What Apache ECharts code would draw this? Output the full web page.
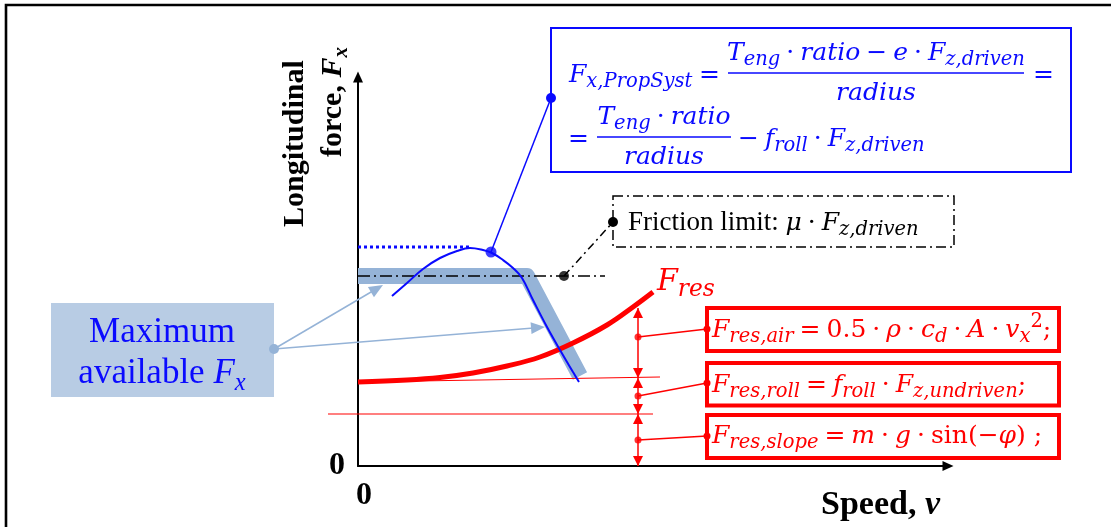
<!DOCTYPE html>
<html><head><meta charset="utf-8">
<script src="https://cdn.jsdelivr.net/npm/echarts@6/dist/echarts.min.js"></script>
<style>html,body{margin:0;padding:0;background:#fff}#c{width:1111px;height:527px}</style>
</head><body><div id="c"></div>
<script>
// ---------------- data (arbitrary units: speed → x, force → y) ----------------
const maxAvailableFx = [[0,190],[169,190],[222,90]];
const frictionLimit  = [[0,190],[247,190]];
const propSystForce  = [[34,170],[49,183],[65,197],[82,208],[99,215],[112,218],[125,216],[134,213],[145,206],[155,198],[164,188],[175,166],[189,139],[202,116],[215,94],[221,84]];
const propSystPeak   = [[0,219],[112,219]];
const resistance     = [[0,84],[49,86],[82,88.5],[115,93],[149,100],[182,109],[215,123],[249,141],[275,159],[295,174]];
const rollLevel      = [[0,84],[302,89]];
const slopeLevel     = [[-30,52],[295,52]];
const dimSpeed       = 280;
const dimLevels      = [0,52,88,158];
const propSystAnchor = [[133,214]];
const frictionAnchor = [[206,190]];
const resAnchors     = [[280,129],[280,70],[280,26]];
const xTickLabels    = ['0'];
const yTickLabels    = ['0'];

// ---------------- helpers for math-like text ----------------
const BLUE = '#0a0aff', RED = '#ff0000', BAND = '#95b3d7';
const ctx = document.createElement('canvas').getContext('2d');
const LIB = '"Liberation Serif", "Times New Roman", serif';
const DJV = '"DejaVu Serif", serif';
function fnt(s, it, bd, fam){ return (it?'italic ':'') + (bd?'bold ':'') + s + 'px ' + fam; }
function measure(f, t){ ctx.font = f; ctx.textBaseline = 'alphabetic'; return ctx.measureText(t).width; }
function midOff(f){
  ctx.font = f; ctx.textBaseline = 'middle';
  const a = ctx.measureText('H').actualBoundingBoxAscent;
  ctx.textBaseline = 'alphabetic';
  const b = ctx.measureText('H').actualBoundingBoxAscent;
  return b - a;
}
// o: {fam, sub (scale), op (pad in em)}
function layout(tokens, size, o){
  o = Object.assign({fam: DJV, sub: 0.78, op: 0.24}, o || {});
  let x = 0; const out = [];
  for (const [t, k, sz] of tokens){
    let s = sz || size, it = false, bd = false, dy = 0, pl = 0, pr = 0, fam = o.fam;
    if (k === 'i') it = true;
    else if (k === 'b') bd = true;
    else if (k === 'bi') { bd = true; it = true; }
    else if (k === 'sub') { s = size*o.sub; it = true; dy = size*0.2; }
    else if (k === 'bsub') { s = size*o.sub; it = true; bd = true; dy = size*0.2; }
    else if (k === 'sup') { s = size*o.sub; dy = -size*0.4; }
    else if (k === 'op') { pl = pr = size*o.op; }
    else if (k === 't') { fam = LIB; }
    s = Math.round(s*10)/10;
    const f = fnt(s, it, bd, fam);
    const w = measure(f, t);
    out.push({t, f, x: x + pl, dy, off: midOff(f)});
    x += pl + w + pr;
  }
  return {items: out, width: x};
}
function textEls(tokens, size, x0, base, color, align, o){
  const L = layout(tokens, size, o);
  const sx = align === 'center' ? x0 - L.width/2 : (align === 'right' ? x0 - L.width : x0);
  return L.items.map(it => ({type:'text', z:100, x: sx + it.x, y: base + it.dy - it.off,
    style:{text: it.t, font: it.f, fill: color, align:'left', verticalAlign:'middle'}}));
}
function fracEls(x0, x1, lineY, num, den, size, color, up, down){
  const cx = (x0 + x1)/2;
  return [{type:'line', z:100, shape:{x1:x0, y1:lineY, x2:x1, y2:lineY}, style:{stroke:color, lineWidth:1.6}}]
    .concat(textEls(num, size, cx, lineY - up, color, 'center'))
    .concat(textEls(den, size, cx, lineY + down, color, 'center'));
}
function lineEl(x1,y1,x2,y2,color,w,dash){
  return {type:'line', z:100, shape:{x1,y1,x2,y2}, style:{stroke:color, lineWidth:w, lineDash:dash||null}};
}
function dotEl(x,y,r,color){ return {type:'circle', z:101, shape:{cx:x, cy:y, r}, style:{fill:color}}; }
function arrowEls(x0,y0,x1,y1,color,w,len,hw){
  const dx = x1-x0, dy = y1-y0, L = Math.hypot(dx,dy), ux = dx/L, uy = dy/L, nx = -uy, ny = ux;
  const bx = x1 - ux*len, by = y1 - uy*len;
  return [lineEl(x0,y0,x1-ux*len*0.6,y1-uy*len*0.6,color,w),
    {type:'polygon', z:100, shape:{points:[[x1,y1],[bx+nx*hw,by+ny*hw],[bx-nx*hw,by-ny*hw]]}, style:{fill:color}}];
}
const LB = {fam: LIB, sub: 0.7};

// ---------------- annotations ----------------
let G = [];
// outer frame
G.push({type:'polyline', z:100, shape:{points:[[6,527],[6,5],[1111,5]]}, style:{stroke:'#000', lineWidth:2.6, fill:null}});

// axis titles
G.push({type:'group', x:303, y:227, rotation:Math.PI/2, children: textEls([['Longitudinal','b']], 30, 0, 0, '#000', 'left', LB)});
G.push({type:'group', x:341, y:157, rotation:Math.PI/2, children: textEls([['force, ','b'],['F','bi'],['x','bsub']], 30, 0, 0, '#000', 'left', LB)});
G = G.concat(textEls([['Speed, ','b'],['v','bi']], 34, 821, 514, '#000', 'left', LB));

// Maximum available box
G.push({type:'rect', z:99, shape:{x:51, y:303, width:223, height:94}, style:{fill:'#b8cce4'}});
G = G.concat(textEls([['Maximum','r']], 35, 162, 342, BLUE, 'center', LB));
G = G.concat(textEls([['available ','r'],['F','i'],['x','sub']], 35, 162, 383, BLUE, 'center', LB));
G.push(dotEl(274,349,5,BAND));
G = G.concat(arrowEls(274,349,383,285,BAND,1.5,14,6));
G = G.concat(arrowEls(274,349,545,327,BAND,1.5,14,6));

// propulsion-system formula box
G.push({type:'rect', z:99, shape:{x:551, y:28, width:520, height:144}, style:{fill:null, stroke:BLUE, lineWidth:2}});
G.push(lineEl(491,252,551,98,BLUE,1.5));
G.push(dotEl(551,98,5,BLUE));
G = G.concat(textEls([['F','i'],['x,PropSyst','sub']], 25, 569, 82, BLUE));
G = G.concat(textEls([['=','r']], 25, 699, 82, BLUE));
G = G.concat(fracEls(728, 1024, 73,
  [['T','i'],['eng','sub'],['·','op'],['ratio','i'],['−','op'],['e','i'],['·','op'],['F','i'],['z,driven','sub']],
  [['radius','i']], 25, BLUE, 13, 27));
G = G.concat(textEls([['=','r']], 25, 1033, 82, BLUE));
G = G.concat(textEls([['=','r']], 25, 568, 146, BLUE));
G = G.concat(fracEls(597, 731, 137, [['T','i'],['eng','sub'],['·','op'],['ratio','i']], [['radius','i']], 25, BLUE, 13, 27));
G = G.concat(textEls([['−','op'],['f','i'],['roll','sub'],['·','op'],['F','i'],['z,driven','sub']], 25, 732, 146, BLUE));

// friction limit box
G.push({type:'rect', z:99, shape:{x:613, y:196, width:341, height:51}, style:{fill:null, stroke:'#000', lineWidth:1.5, lineDash:[10,4,2,4]}});
G.push(lineEl(564,276,613,222,'#000',1.5,[8,4,2,4]));
G.push(dotEl(613,222,5,'#000'));
G = G.concat(textEls([['Friction limit: ','t',27],['μ','i'],['·','op'],['F','i'],['z,driven','sub']], 25, 628, 230, '#000'));

// resistance label
G = G.concat(textEls([['F','i'],['res','sub']], 30, 657, 290, RED));

// resistance boxes
[[308,43],[363,42.5],[415,43]].forEach(([y,h]) => G.push({type:'rect', z:99, shape:{x:707, y, width:352, height:h}, style:{fill:null, stroke:RED, lineWidth:4}}));
[[638,337,707,329],[638,396,707,383],[638,440,707,436]].forEach(([a,b,c,d]) => { G.push(lineEl(a,b,c,d,RED,1.5)); G.push(dotEl(c,d,3.5,RED)); });
G = G.concat(textEls([['F','i'],['res,air','sub'],['=','op'],['0.5','r'],['·','op'],['ρ','i'],['·','op'],['c','i'],['d','sub'],['·','op'],['A','i'],['·','op'],['v','i'],['x','sub'],['2','sup'],[';','r']], 25, 712, 337, RED));
G = G.concat(textEls([['F','i'],['res,roll','sub'],['=','op'],['f','i'],['roll','sub'],['·','op'],['F','i'],['z,undriven','sub'],[';','r']], 25, 712, 392, RED));
G = G.concat(textEls([['F','i'],['res,slope','sub'],['=','op'],['m','i'],['·','op'],['g','i'],['·','op'],['sin','r'],['(−','r'],['φ','i'],[')','r'],[' ;','r']], 25, 712, 443, RED));

// ---------------- chart ----------------
const chart = echarts.init(document.getElementById('c'), null, {renderer:'canvas'});
const dimPairs = [];
for (let i = 0; i < dimLevels.length - 1; i++) dimPairs.push([{coord:[dimSpeed, dimLevels[i]]},{coord:[dimSpeed, dimLevels[i+1]]}]);

chart.setOption({
  animation: false,
  grid: [
    {left:358, top:77, width:590, height:389},
    {left:328, top:77, width:620, height:389, show:false}
  ],
  xAxis: [
    {type:'value', gridIndex:0, min:0, max:590, interval:590,
      axisLine:{show:true, lineStyle:{color:'#000', width:2}, symbol:['none','triangle'], symbolSize:[10,11]},
      axisTick:{show:false}, splitLine:{show:false},
      axisLabel:{show:true, formatter: v => v === 0 ? xTickLabels[0] : '', color:'#000', fontFamily:'Liberation Serif', fontWeight:'bold', fontSize:32, margin:14, padding:[0,0,0,12]}},
    {type:'value', gridIndex:1, min:-30, max:590, show:false}
  ],
  yAxis: [
    {type:'value', gridIndex:0, min:0, max:389, interval:389,
      axisLine:{show:true, lineStyle:{color:'#000', width:2}, symbol:['none','triangle'], symbolSize:[10,11]},
      axisTick:{show:false}, splitLine:{show:false},
      axisLabel:{show:true, formatter: v => v === 0 ? yTickLabels[0] : '', color:'#000', fontFamily:'Liberation Serif', fontWeight:'bold', fontSize:32, margin:13, padding:[0,0,6,0]}},
    {type:'value', gridIndex:1, min:0, max:389, show:false}
  ],
  series: [
    {name:'Maximum available Fx', type:'line', data:maxAvailableFx, symbol:'none', silent:true, z:1,
      lineStyle:{color:BAND, width:16, cap:'butt', join:'round'}},
    {name:'Friction limit', type:'line', data:frictionLimit, symbol:'none', silent:true, z:3,
      lineStyle:{color:'#000', width:1.5, type:[12,4,2,4]}},
    {name:'Friction anchor', type:'scatter', data:frictionAnchor, symbolSize:10, itemStyle:{color:'#000'}, silent:true, z:6},
    {name:'Roll level', type:'line', data:rollLevel, symbol:'none', silent:true, z:3,
      lineStyle:{color:RED, width:1.2}},
    {name:'Slope level', type:'line', xAxisIndex:1, yAxisIndex:1, data:slopeLevel, symbol:'none', silent:true, z:3,
      lineStyle:{color:RED, width:1.2},
      markLine:{silent:true, symbol:['triangle','triangle'], symbolSize:[10,10], symbolOffset:[[0,5],[0,5]],
        label:{show:false}, lineStyle:{color:RED, width:1.5, type:'solid'}, data:dimPairs}},
    {name:'Resistance', type:'line', data:resistance, symbol:'none', smooth:0.4, silent:true, z:4,
      lineStyle:{color:RED, width:5}},
    {name:'Resistance anchors', type:'scatter', data:resAnchors, symbolSize:7, itemStyle:{color:RED}, silent:true, z:6},
    {name:'PropSyst peak', type:'line', data:propSystPeak, symbol:'none', silent:true, z:5,
      lineStyle:{color:BLUE, width:3, type:[3,3]}},
    {name:'PropSyst', type:'line', data:propSystForce, symbol:'none', smooth:0.4, silent:true, z:5,
      lineStyle:{color:BLUE, width:2}},
    {name:'PropSyst anchor', type:'scatter', data:propSystAnchor, symbolSize:11, itemStyle:{color:BLUE}, silent:true, z:6}
  ],
  graphic: {elements: G}
});
</script></body></html>
